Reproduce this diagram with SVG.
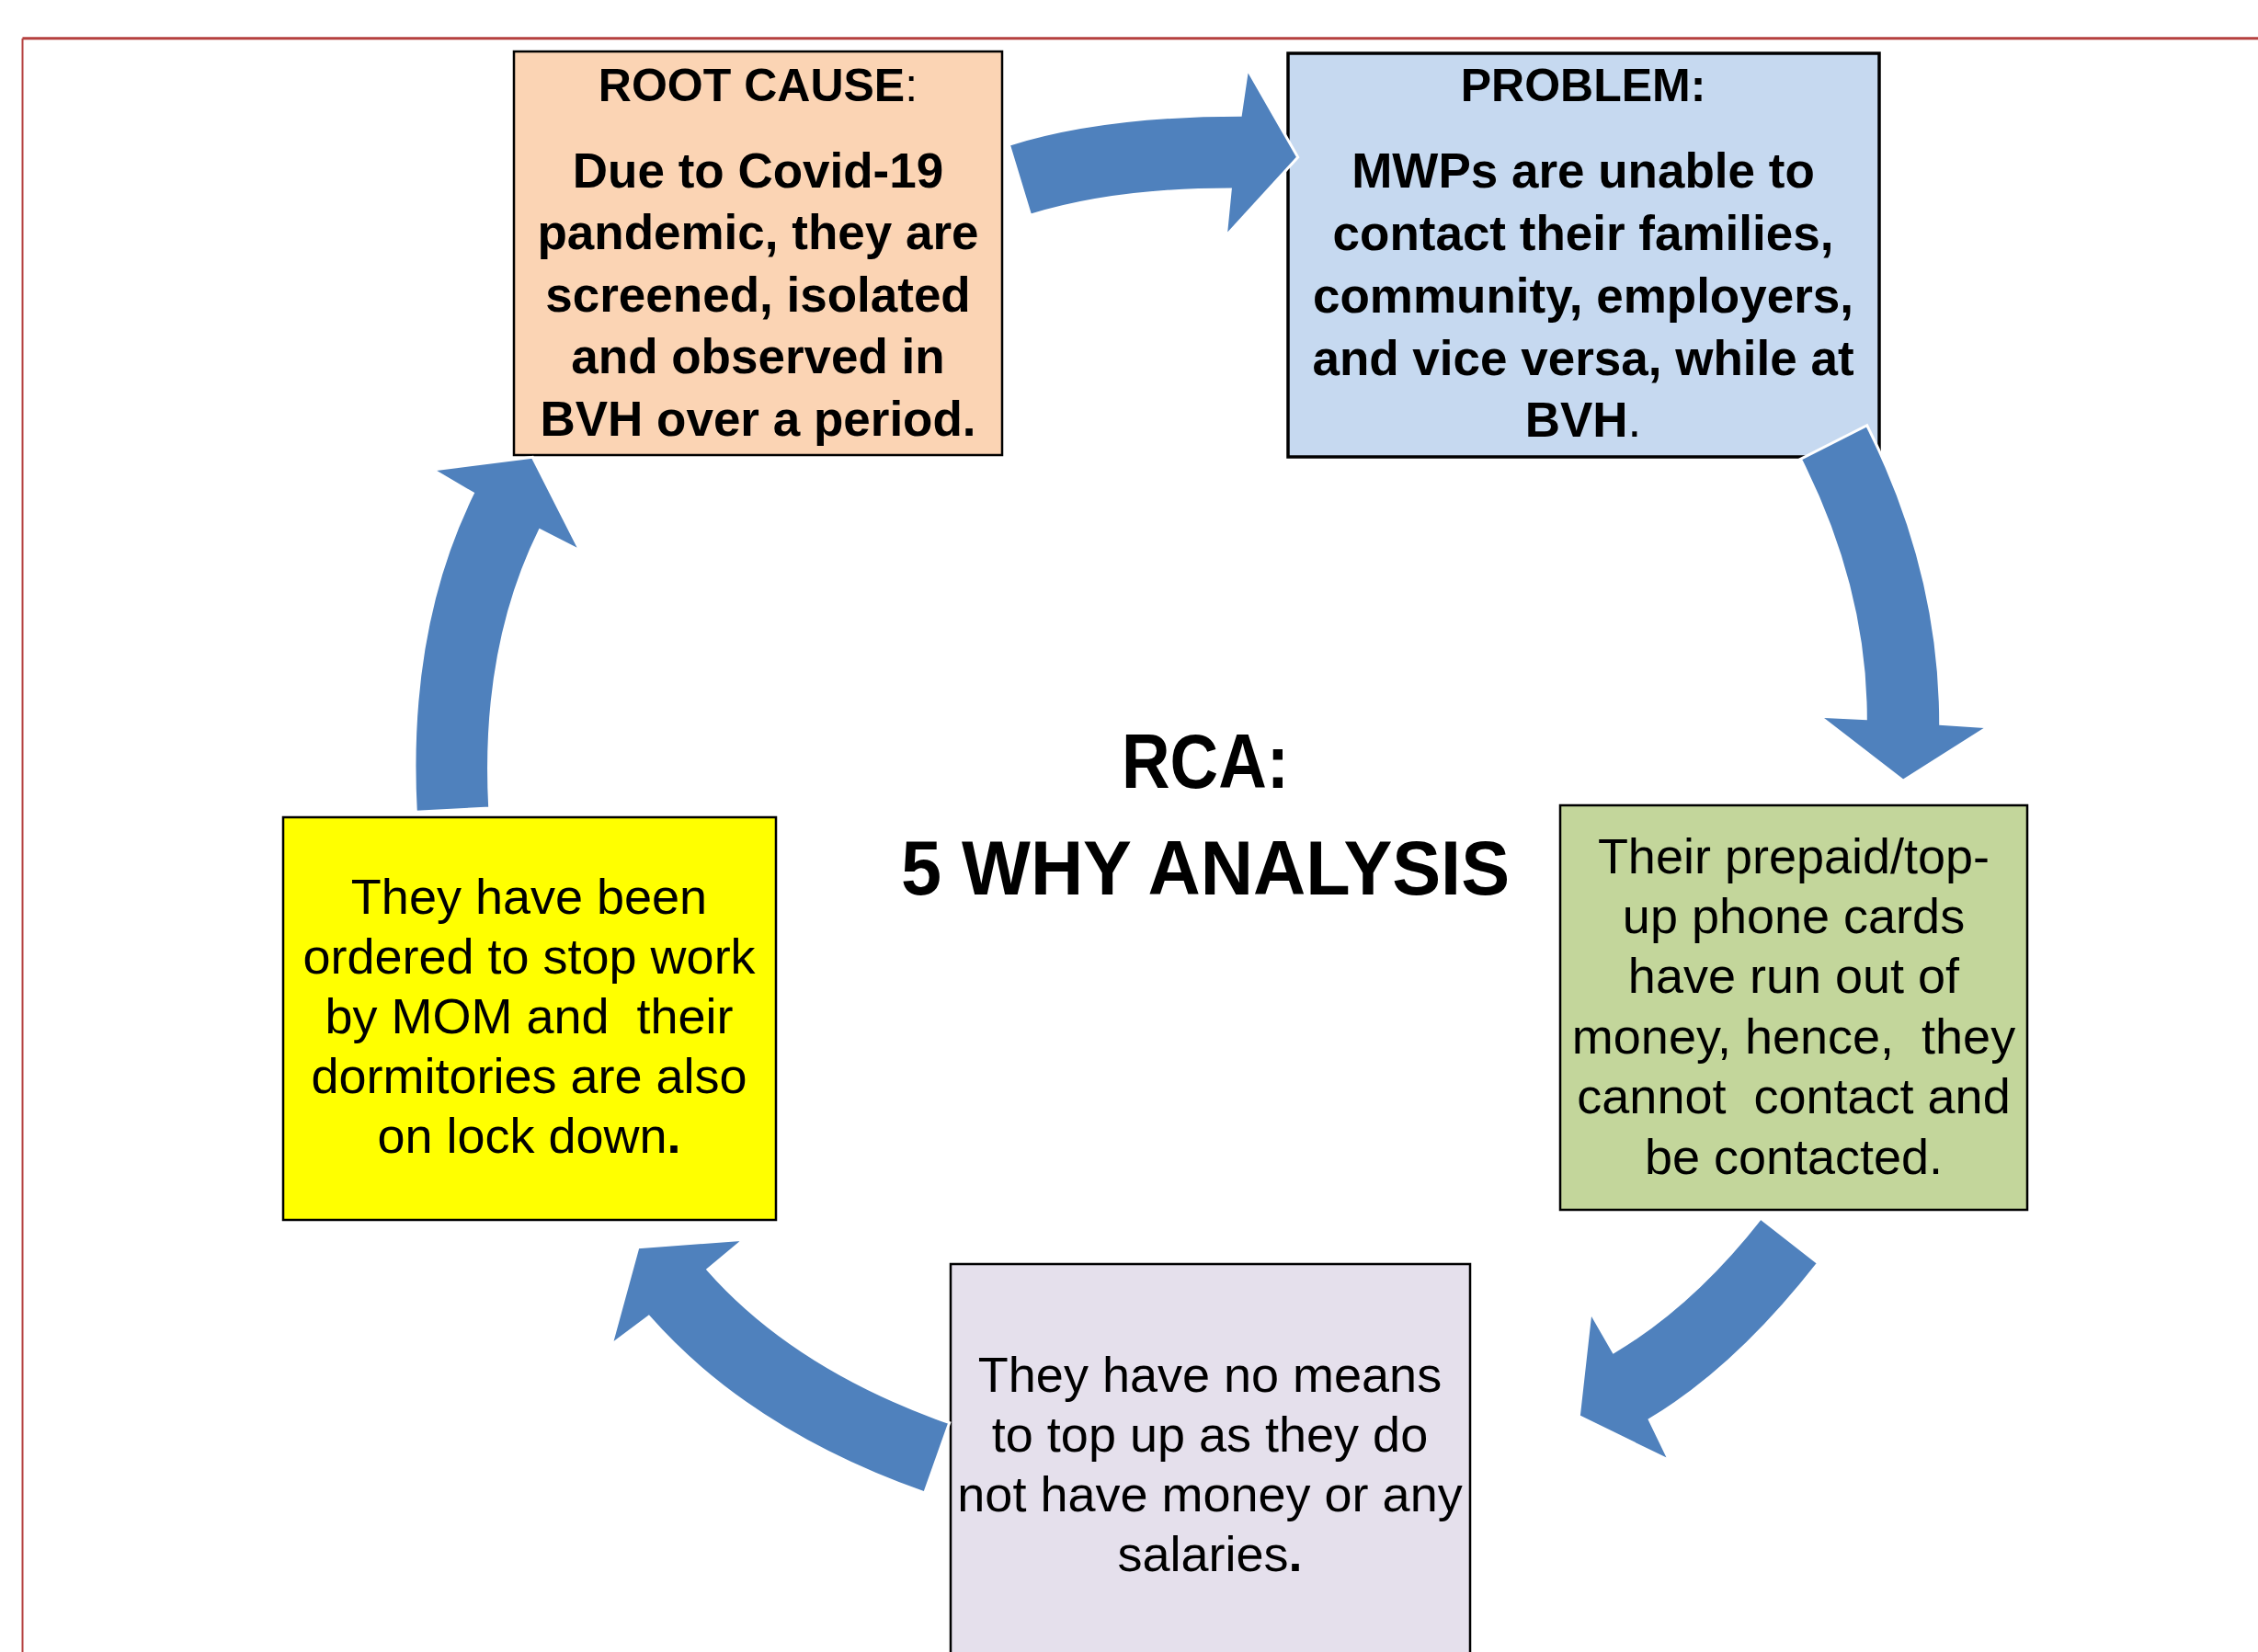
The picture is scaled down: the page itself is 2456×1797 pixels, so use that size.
<svg xmlns="http://www.w3.org/2000/svg" width="2456" height="1797" viewBox="0 0 2456 1797">
<style>
.box{stroke:#000;stroke-width:2.5}
.t{font-family:"Liberation Sans",Arial,sans-serif;font-size:54px;fill:#000;text-anchor:middle;white-space:pre}
.b{font-weight:bold;font-size:53px}
.h{font-weight:bold;font-size:50px}
.n{font-weight:normal}
.bd{font-weight:bold}
.title{font-family:"Liberation Sans",Arial,sans-serif;font-weight:bold;font-size:83px;fill:#000;text-anchor:middle}
.arrow{fill:#4F81BD;stroke:#FFFFFF;stroke-width:3;stroke-linejoin:miter}
</style>
<rect x="0" y="0" width="2456" height="1797" fill="#FFFFFF"/>
<g id="frame" fill="none" stroke="#B5403F">
<line x1="24.5" y1="41.7" x2="2456" y2="41.7" stroke-width="3"/>
<line x1="24.5" y1="41.7" x2="24.5" y2="1797" stroke-width="2"/>
</g>
<g id="node-root">
<rect class="box" x="559" y="56" width="531" height="439" fill="#FBD4B4"/>
<text class="t b"><tspan class="h" x="824.5" y="110">ROOT CAUSE<tspan class="n">:</tspan></tspan><tspan x="824.5" y="204">Due to Covid-19</tspan><tspan x="824.5" y="271">pandemic, they are</tspan><tspan x="824.5" y="339">screened, isolated</tspan><tspan x="824.5" y="406">and observed in</tspan><tspan x="824.5" y="474">BVH over a period.</tspan></text>
</g>
<g id="node-problem">
<rect class="box" x="1401" y="58" width="643" height="439" fill="#C6D9F0" style="stroke-width:3.5"/>
<text class="t b"><tspan class="h" x="1722" y="110">PROBLEM:</tspan><tspan x="1722" y="204">MWPs are unable to</tspan><tspan x="1722" y="272">contact their families,</tspan><tspan x="1722" y="340">community, employers,</tspan><tspan x="1722" y="408">and vice versa, while at</tspan><tspan x="1722" y="475">BVH<tspan class="n">.</tspan></tspan></text>
</g>
<g id="node-cards">
<rect class="box" x="1697" y="876" width="508" height="440" fill="#C3D69B"/>
<text class="t"><tspan x="1951" y="950">Their prepaid/top-</tspan><tspan x="1951" y="1015">up phone cards</tspan><tspan x="1951" y="1080">have run out of</tspan><tspan x="1951" y="1146">money, hence,  they</tspan><tspan x="1951" y="1211">cannot  contact and</tspan><tspan x="1951" y="1277">be contacted.</tspan></text>
</g>
<g id="node-means">
<rect class="box" x="1034" y="1375" width="565" height="460" fill="#E5E0EC"/>
<text class="t"><tspan x="1316" y="1514">They have no means</tspan><tspan x="1316" y="1579">to top up as they do</tspan><tspan x="1316" y="1644">not have money or any</tspan><tspan x="1316" y="1709">salaries<tspan class="bd">.</tspan></tspan></text>
</g>
<g id="node-ordered">
<rect class="box" x="308" y="889" width="536" height="438" fill="#FFFF00"/>
<text class="t"><tspan x="575.5" y="994">They have been</tspan><tspan x="575.5" y="1059">ordered to stop work</tspan><tspan x="575.5" y="1124">by MOM and  their</tspan><tspan x="575.5" y="1189">dormitories are also</tspan><tspan x="575.5" y="1254">on lock down<tspan class="bd">.</tspan></tspan></text>
</g>
<g id="node-title">
<text class="title" x="1311" y="857" textLength="182" lengthAdjust="spacingAndGlyphs">RCA:</text>
<text class="title" x="1311" y="973" textLength="662" lengthAdjust="spacingAndGlyphs">5 WHY ANALYSIS</text>
</g>
<g id="connectors">
<path class="arrow" d="M1097.3,157.3 Q1199,125.3 1349.3,125.3 L1356.7,75 L1411.7,171 L1333.3,256.7 L1338.3,206 Q1212,206 1120.7,234.3 Z"/>
<path class="arrow" d="M2030.7,462.7 Q2110.7,621 2110.7,787.3 L2162.3,790.7 L2070,849.3 L1979.3,779.3 L2029.3,781.7 Q2029.3,640 1958.3,499.3 Z"/>
<path class="arrow" d="M1915,1325 Q1841,1419.6 1755,1470.7 L1730,1427.3 L1717.3,1540.7 L1815.7,1588.7 L1794.3,1544.3 Q1888.1,1488.6 1977.7,1374 Z"/>
<path class="arrow" d="M1032.7,1547.7 Q864.5,1488.2 770,1381 L809,1348.3 L694,1356.7 L665,1462.7 L705.7,1432.3 Q815.2,1556.7 1005.7,1624 Z"/>
<path class="arrow" d="M452.3,883.3 Q441.7,683.8 514.3,536.7 L470.7,511 L579.3,497.3 L631,599 L587.3,576.7 Q523.5,705.9 532.7,879 Z"/>
</g>
</svg>
